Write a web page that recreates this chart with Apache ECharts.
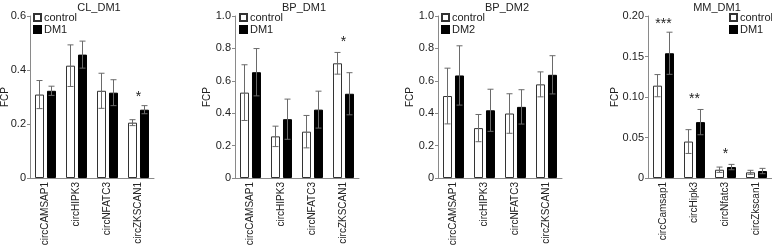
<!DOCTYPE html>
<html>
<head>
<meta charset="utf-8">
<script src="https://cdn.jsdelivr.net/npm/echarts@6/dist/echarts.min.js"></script>
<style>
html, body { margin: 0; padding: 0; background: #fff; }
#main { width: 772px; height: 245px; }
</style>
</head>
<body>
<div id="main"></div>
<script>
// categories
var catsUpper = ['circCAMSAP1', 'circHIPK3', 'circNFATC3', 'circZKSCAN1'];
var catsMouse = ['circCamsap1', 'circHipk3', 'circNfatc3', 'circZkscan1'];

// CL_DM1
var clControl = [0.309, 0.416, 0.323, 0.205];
var clControlErr = [0.052, 0.077, 0.065, 0.011];
var clDM1 = [0.323, 0.457, 0.316, 0.253];
var clDM1Err = [0.017, 0.050, 0.048, 0.015];
var clStars = [[3, 0.30, '*']];

// BP_DM1
var bp1Control = [0.527, 0.257, 0.286, 0.708];
var bp1ControlErr = [0.172, 0.063, 0.100, 0.067];
var bp1DM1 = [0.653, 0.363, 0.422, 0.520];
var bp1DM1Err = [0.146, 0.124, 0.114, 0.130];
var bp1Stars = [[3, 0.84, '*']];

// BP_DM2
var bp2Control = [0.506, 0.308, 0.398, 0.578];
var bp2ControlErr = [0.172, 0.084, 0.122, 0.077];
var bp2DM2 = [0.633, 0.418, 0.439, 0.637];
var bp2DM2Err = [0.183, 0.130, 0.106, 0.118];
var bp2Stars = [];

// MM_DM1
var mmControl = [0.114, 0.045, 0.0102, 0.0070];
var mmControlErr = [0.0137, 0.0147, 0.0033, 0.0025];
var mmDM1 = [0.154, 0.069, 0.0135, 0.0086];
var mmDM1Err = [0.026, 0.0156, 0.0033, 0.0033];
var mmStars = [[0, 0.19, '***'], [1, 0.097, '**'], [2, 0.029, '*']];

var FONT = '"Liberation Sans", Arial, sans-serif';
var AXIS_COLOR = '#8a8a8a';

var panels = [
    {title: 'CL_DM1', cats: catsUpper, left: 30, max: 0.6, step: 0.2, dec: 1, nameGap: 20,
     a: clControl, aErr: clControlErr, b: clDM1, bErr: clDM1Err, bName: 'DM1', stars: clStars, legendLeft: 33},
    {title: 'BP_DM1', cats: catsUpper, left: 235, max: 1.0, step: 0.2, dec: 1, nameGap: 23,
     a: bp1Control, aErr: bp1ControlErr, b: bp1DM1, bErr: bp1DM1Err, bName: 'DM1', stars: bp1Stars, legendLeft: 239},
    {title: 'BP_DM2', cats: catsUpper, left: 438, max: 1.0, step: 0.2, dec: 1, nameGap: 23,
     a: bp2Control, aErr: bp2ControlErr, b: bp2DM2, bErr: bp2DM2Err, bName: 'DM2', stars: bp2Stars, legendLeft: 441},
    {title: 'MM_DM1', cats: catsMouse, left: 648, max: 0.2, step: 0.05, dec: 2, nameGap: 28,
     a: mmControl, aErr: mmControlErr, b: mmDM1, bErr: mmDM1Err, bName: 'DM1', stars: mmStars, legendLeft: 729}
];

function errData(vals, errs) {
    return vals.map(function (v, i) { return [i, v, errs[i]]; });
}

function errorSeries(idx, data, dx) {
    return {
        type: 'custom',
        xAxisIndex: idx,
        yAxisIndex: idx,
        z: 5,
        silent: true,
        encode: {x: 0, y: 1},
        data: data,
        renderItem: function (params, api) {
            var i = api.value(0), v = api.value(1), e = api.value(2);
            var hi = api.coord([i, v + e]);
            var lo = api.coord([i, v - e]);
            var x = hi[0] + dx;
            var style = {stroke: '#6a6a6a', lineWidth: 1};
            return {
                type: 'group',
                children: [
                    {type: 'line', shape: {x1: x, y1: hi[1], x2: x, y2: lo[1]}, style: style},
                    {type: 'line', shape: {x1: x - 3, y1: hi[1], x2: x + 3, y2: hi[1]}, style: style},
                    {type: 'line', shape: {x1: x - 3, y1: lo[1], x2: x + 3, y2: lo[1]}, style: style}
                ]
            };
        }
    };
}

function starSeries(idx, data) {
    return {
        type: 'custom',
        xAxisIndex: idx,
        yAxisIndex: idx,
        z: 6,
        silent: true,
        encode: {x: 0, y: 1},
        data: data,
        renderItem: function (params, api) {
            var p = api.coord([api.value(0), api.value(1)]);
            return {
                type: 'text',
                x: p[0],
                y: p[1],
                style: {text: data[params.dataIndex][2], fill: '#222', font: '14px ' + FONT,
                        align: 'center', verticalAlign: 'middle'}
            };
        }
    };
}

var option = {
    animation: false,
    backgroundColor: '#fff',
    textStyle: {fontFamily: FONT},
    title: [],
    legend: [],
    grid: [],
    xAxis: [],
    yAxis: [],
    series: []
};

panels.forEach(function (p, idx) {
    option.title.push({
        text: p.title, left: p.left + 64, top: -3, textAlign: 'center',
        textStyle: {fontSize: 11, fontWeight: 'normal', color: '#222', fontFamily: FONT}
    });
    option.legend.push({
        data: ['control', p.bName], orient: 'vertical', left: p.legendLeft, top: 12,
        icon: 'rect', itemWidth: 7, itemHeight: 7, itemGap: 1, padding: 0, selectedMode: false,
        textStyle: {fontSize: 11, lineHeight: 11, color: '#222', fontFamily: FONT, padding: [0, 0, 0, -2]}
    });
    option.grid.push({left: p.left, top: 16, width: 124, height: 162, outerBoundsMode: 'none'});
    option.xAxis.push({
        type: 'category', gridIndex: idx, data: p.cats,
        axisLine: {lineStyle: {color: AXIS_COLOR, width: 1}},
        axisTick: {alignWithLabel: true, length: 3, lineStyle: {color: AXIS_COLOR}},
        axisLabel: {rotate: 90, fontSize: 10, color: '#222', margin: 4, fontFamily: FONT}
    });
    option.yAxis.push({
        type: 'value', gridIndex: idx, min: 0, max: p.max, interval: p.step,
        name: 'FCP', nameLocation: 'middle', nameGap: p.nameGap, nameRotate: 90,
        nameMoveOverlap: false,
        nameTextStyle: {fontSize: 10, color: '#222', fontFamily: FONT},
        splitLine: {show: false},
        axisLine: {show: true, lineStyle: {color: AXIS_COLOR, width: 1}},
        axisTick: {show: true, length: 3, lineStyle: {color: AXIS_COLOR}},
        axisLabel: {fontSize: 11, color: '#222', margin: 4, fontFamily: FONT,
            formatter: function (v) { return v === 0 ? '0' : v.toFixed(p.dec); }}
    });
    option.series.push({
        name: 'control', type: 'bar', xAxisIndex: idx, yAxisIndex: idx,
        data: p.a, barWidth: 9, barGap: '33%',
        itemStyle: {color: '#fff', borderColor: '#333', borderWidth: 1}
    });
    option.series.push({
        name: p.bName, type: 'bar', xAxisIndex: idx, yAxisIndex: idx,
        data: p.b, barWidth: 9, barGap: '33%',
        itemStyle: {color: '#000', borderColor: '#000', borderWidth: 1}
    });
    option.series.push(errorSeries(idx, errData(p.a, p.aErr), -6));
    option.series.push(errorSeries(idx, errData(p.b, p.bErr), 6));
    if (p.stars.length) option.series.push(starSeries(idx, p.stars));
});

var chart = echarts.init(document.getElementById('main'));
chart.setOption(option);
</script>
</body>
</html>
